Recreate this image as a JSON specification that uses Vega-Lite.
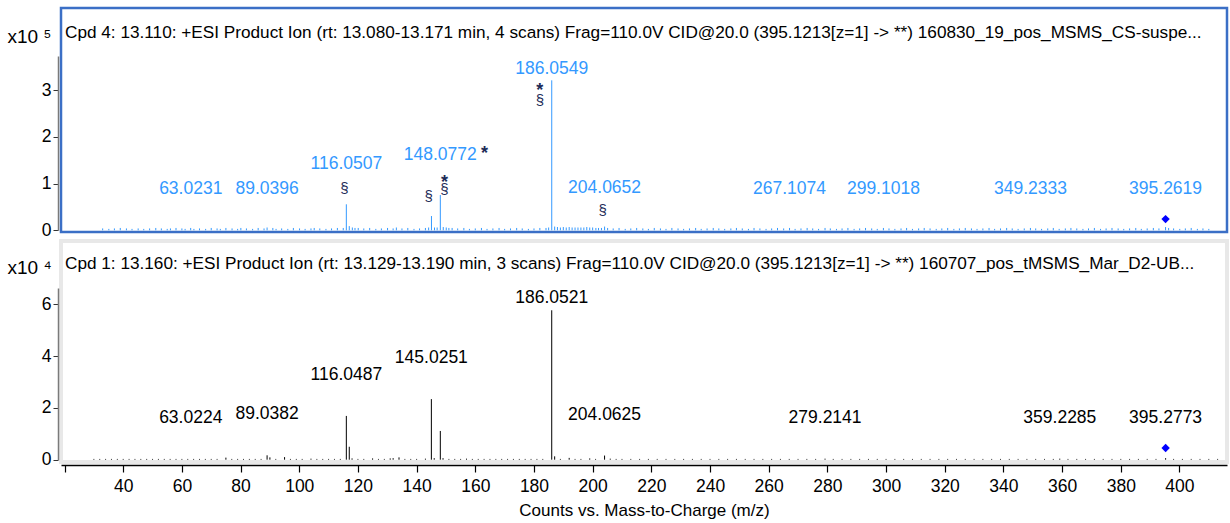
{
  "$schema": "https://vega.github.io/schema/vega-lite/v6.json",
  "autosize": "pad",
  "padding": {"left": 5, "top": 6, "right": 2, "bottom": 2},
  "spacing": 9,
  "bounds": "flush",
  "background": "white",
  "config": {
    "font": "Liberation Sans, Arial, sans-serif",
    "axis": {"grid": false, "labelColor": "black", "titleColor": "black", "titleFontWeight": "normal", "labelFont": "Liberation Sans, Arial, sans-serif", "titleFont": "Liberation Sans, Arial, sans-serif"},
    "title": {"fontWeight": "normal", "color": "black", "font": "Liberation Sans, Arial, sans-serif"}
  },
  "resolve": {"scale": {"x": "independent", "y": "independent"}},
  "datasets": {
    "top_peaks": [
      {"mz":33.0,"i":0.04},{"mz":35.1,"i":0.03},{"mz":37.0,"i":0.04},{"mz":39.0,"i":0.05},{"mz":41.1,"i":0.04},{"mz":43.0,"i":0.03},{"mz":45.1,"i":0.04},{"mz":47.0,"i":0.03},{"mz":49.0,"i":0.04},{"mz":51.1,"i":0.05},{"mz":53.0,"i":0.04},{"mz":55.0,"i":0.03},{"mz":56.1,"i":0.04},{"mz":58.0,"i":0.05},{"mz":60.0,"i":0.04},{"mz":61.1,"i":0.03},{"mz":63.0,"i":0.05},{"mz":64.1,"i":0.03},{"mz":66.0,"i":0.04},{"mz":68.1,"i":0.03},{"mz":70.0,"i":0.05},{"mz":72.0,"i":0.04},{"mz":73.1,"i":0.03},{"mz":75.0,"i":0.05},{"mz":77.1,"i":0.04},{"mz":79.0,"i":0.03},{"mz":80.1,"i":0.05},{"mz":82.0,"i":0.04},{"mz":84.1,"i":0.03},{"mz":86.0,"i":0.05},{"mz":88.0,"i":0.04},{"mz":89.04,"i":0.06},{"mz":91.0,"i":0.05},{"mz":92.1,"i":0.03},{"mz":94.0,"i":0.04},{"mz":96.1,"i":0.03},{"mz":98.0,"i":0.05},{"mz":100.1,"i":0.04},{"mz":102.0,"i":0.03},{"mz":104.0,"i":0.04},{"mz":105.1,"i":0.05},{"mz":107.0,"i":0.04},{"mz":109.1,"i":0.03},{"mz":111.0,"i":0.04},{"mz":113.0,"i":0.05},{"mz":115.0,"i":0.05},{"mz":116.05,"i":0.557},{"mz":117.05,"i":0.09},{"mz":118.1,"i":0.06},{"mz":119.0,"i":0.05},{"mz":120.1,"i":0.05},{"mz":122.0,"i":0.04},{"mz":124.0,"i":0.05},{"mz":126.1,"i":0.03},{"mz":128.0,"i":0.04},{"mz":130.1,"i":0.05},{"mz":132.0,"i":0.04},{"mz":133.1,"i":0.06},{"mz":135.0,"i":0.04},{"mz":137.0,"i":0.05},{"mz":139.1,"i":0.03},{"mz":141.0,"i":0.04},{"mz":143.0,"i":0.05},{"mz":144.1,"i":0.06},{"mz":145.06,"i":0.306},{"mz":146.1,"i":0.06},{"mz":147.0,"i":0.06},{"mz":148.08,"i":0.756},{"mz":149.08,"i":0.07},{"mz":150.1,"i":0.06},{"mz":151.0,"i":0.05},{"mz":152.1,"i":0.05},{"mz":154.0,"i":0.04},{"mz":156.1,"i":0.05},{"mz":158.0,"i":0.03},{"mz":160.0,"i":0.04},{"mz":162.1,"i":0.05},{"mz":164.0,"i":0.03},{"mz":166.0,"i":0.04},{"mz":168.1,"i":0.05},{"mz":170.0,"i":0.03},{"mz":172.0,"i":0.04},{"mz":174.1,"i":0.05},{"mz":176.0,"i":0.04},{"mz":178.1,"i":0.03},{"mz":180.0,"i":0.04},{"mz":182.0,"i":0.05},{"mz":184.1,"i":0.05},{"mz":185.0,"i":0.06},{"mz":186.055,"i":3.214},{"mz":187.05,"i":0.08},{"mz":188.0,"i":0.07},{"mz":189.0,"i":0.06},{"mz":190.0,"i":0.07},{"mz":191.0,"i":0.06},{"mz":192.0,"i":0.07},{"mz":193.0,"i":0.06},{"mz":194.0,"i":0.06},{"mz":195.0,"i":0.06},{"mz":196.0,"i":0.06},{"mz":197.0,"i":0.06},{"mz":198.0,"i":0.07},{"mz":199.0,"i":0.06},{"mz":200.0,"i":0.06},{"mz":201.1,"i":0.05},{"mz":202.0,"i":0.05},{"mz":203.0,"i":0.05},{"mz":204.065,"i":0.08},{"mz":205.1,"i":0.05},{"mz":207.0,"i":0.04},{"mz":209.0,"i":0.05},{"mz":211.1,"i":0.03},{"mz":213.0,"i":0.04},{"mz":215.0,"i":0.05},{"mz":217.1,"i":0.04},{"mz":219.0,"i":0.03},{"mz":221.0,"i":0.05},{"mz":223.1,"i":0.04},{"mz":225.0,"i":0.03},{"mz":227.0,"i":0.05},{"mz":229.1,"i":0.04},{"mz":231.0,"i":0.03},{"mz":233.0,"i":0.04},{"mz":235.1,"i":0.05},{"mz":237.0,"i":0.03},{"mz":239.0,"i":0.04},{"mz":241.1,"i":0.05},{"mz":243.0,"i":0.04},{"mz":245.0,"i":0.03},{"mz":247.1,"i":0.04},{"mz":249.0,"i":0.05},{"mz":251.0,"i":0.04},{"mz":253.1,"i":0.03},{"mz":255.0,"i":0.05},{"mz":257.0,"i":0.04},{"mz":259.1,"i":0.03},{"mz":261.0,"i":0.04},{"mz":263.0,"i":0.05},{"mz":265.1,"i":0.04},{"mz":267.1,"i":0.05},{"mz":269.0,"i":0.03},{"mz":271.0,"i":0.04},{"mz":273.1,"i":0.05},{"mz":275.0,"i":0.04},{"mz":277.0,"i":0.03},{"mz":279.2,"i":0.05},{"mz":281.0,"i":0.04},{"mz":283.1,"i":0.03},{"mz":285.0,"i":0.04},{"mz":287.0,"i":0.05},{"mz":289.1,"i":0.03},{"mz":291.0,"i":0.04},{"mz":293.0,"i":0.05},{"mz":295.1,"i":0.04},{"mz":297.0,"i":0.03},{"mz":299.1,"i":0.05},{"mz":301.0,"i":0.04},{"mz":303.0,"i":0.03},{"mz":305.1,"i":0.04},{"mz":307.0,"i":0.05},{"mz":309.0,"i":0.03},{"mz":311.1,"i":0.04},{"mz":313.0,"i":0.05},{"mz":315.0,"i":0.04},{"mz":317.1,"i":0.03},{"mz":319.0,"i":0.04},{"mz":321.0,"i":0.05},{"mz":323.1,"i":0.03},{"mz":325.0,"i":0.04},{"mz":327.0,"i":0.05},{"mz":329.1,"i":0.04},{"mz":331.0,"i":0.03},{"mz":333.0,"i":0.04},{"mz":335.1,"i":0.05},{"mz":337.0,"i":0.03},{"mz":339.0,"i":0.04},{"mz":341.1,"i":0.05},{"mz":343.0,"i":0.04},{"mz":345.0,"i":0.03},{"mz":347.1,"i":0.04},{"mz":349.2,"i":0.05},{"mz":351.0,"i":0.04},{"mz":353.0,"i":0.03},{"mz":355.1,"i":0.04},{"mz":357.0,"i":0.05},{"mz":359.0,"i":0.03},{"mz":361.1,"i":0.04},{"mz":363.0,"i":0.05},{"mz":365.0,"i":0.04},{"mz":367.1,"i":0.03},{"mz":369.0,"i":0.04},{"mz":371.0,"i":0.05},{"mz":373.1,"i":0.03},{"mz":375.0,"i":0.04},{"mz":377.0,"i":0.05},{"mz":379.1,"i":0.04},{"mz":381.0,"i":0.03},{"mz":383.0,"i":0.04},{"mz":385.1,"i":0.05},{"mz":387.0,"i":0.03},{"mz":389.0,"i":0.04},{"mz":391.1,"i":0.05},{"mz":393.0,"i":0.04},{"mz":395.26,"i":0.07},{"mz":396.3,"i":0.05},{"mz":398.0,"i":0.04},{"mz":400.1,"i":0.03},{"mz":402.0,"i":0.04},{"mz":404.0,"i":0.05},{"mz":406.1,"i":0.03},{"mz":408.0,"i":0.04},{"mz":410.0,"i":0.03}
    ],
    "top_labels": [
      {"mz":63.0231,"ly":0.89,"label":"63.0231"},{"mz":89.0396,"ly":0.89,"label":"89.0396"},{"mz":116.0507,"ly":1.43,"label":"116.0507"},{"mz":148.0772,"ly":1.61,"label":"148.0772"},{"mz":186.0549,"ly":3.46,"label":"186.0549"},{"mz":204.0652,"ly":0.91,"label":"204.0652"},{"mz":267.1074,"ly":0.89,"label":"267.1074"},{"mz":299.1018,"ly":0.89,"label":"299.1018"},{"mz":349.2333,"ly":0.89,"label":"349.2333"},{"mz":395.2619,"ly":0.89,"label":"395.2619"}
    ],
    "top_symbols": [
      {"mz":115.4,"ly":0.91,"sym":"§"},{"mz":144.1,"ly":0.735,"sym":"§"},{"mz":149.5,"ly":0.878,"sym":"§"},{"mz":182.0,"ly":2.79,"sym":"§"},{"mz":203.4,"ly":0.435,"sym":"§"},
      {"mz":149.5,"ly":1.106,"sym":"*"},{"mz":163.1,"ly":1.714,"sym":"*"},{"mz":182.0,"ly":3.07,"sym":"*"}
    ],
    "top_precursor": [{"mz":395.26,"ly":0.24}],
    "bottom_peaks": [
      {"mz":30.0,"i":0.03},{"mz":32.0,"i":0.03},{"mz":34.0,"i":0.03},{"mz":36.0,"i":0.03},{"mz":38.0,"i":0.03},{"mz":40.0,"i":0.03},{"mz":42.0,"i":0.03},{"mz":44.0,"i":0.03},{"mz":46.0,"i":0.03},{"mz":48.0,"i":0.03},{"mz":50.0,"i":0.03},{"mz":52.0,"i":0.03},{"mz":54.0,"i":0.03},{"mz":56.0,"i":0.03},{"mz":58.0,"i":0.03},{"mz":60.0,"i":0.03},{"mz":62.0,"i":0.03},{"mz":64.0,"i":0.03},{"mz":66.0,"i":0.03},{"mz":68.0,"i":0.03},{"mz":70.0,"i":0.03},{"mz":72.0,"i":0.03},{"mz":75.0,"i":0.08},{"mz":77.0,"i":0.03},{"mz":79.0,"i":0.03},{"mz":81.0,"i":0.03},{"mz":83.0,"i":0.03},{"mz":85.0,"i":0.03},{"mz":87.0,"i":0.03},{"mz":89.04,"i":0.17},{"mz":90.0,"i":0.09},{"mz":92.0,"i":0.03},{"mz":95.0,"i":0.1},{"mz":97.0,"i":0.03},{"mz":99.0,"i":0.03},{"mz":101.0,"i":0.03},{"mz":104.0,"i":0.04},{"mz":106.0,"i":0.03},{"mz":108.0,"i":0.03},{"mz":110.0,"i":0.03},{"mz":112.0,"i":0.03},{"mz":114.0,"i":0.03},{"mz":116.05,"i":1.69},{"mz":117.05,"i":0.5},{"mz":118.0,"i":0.05},{"mz":120.0,"i":0.03},{"mz":122.0,"i":0.03},{"mz":125.0,"i":0.05},{"mz":127.0,"i":0.03},{"mz":129.0,"i":0.03},{"mz":131.0,"i":0.05},{"mz":132.0,"i":0.06},{"mz":134.0,"i":0.09},{"mz":136.0,"i":0.03},{"mz":138.0,"i":0.03},{"mz":140.0,"i":0.03},{"mz":143.0,"i":0.04},{"mz":145.03,"i":2.34},{"mz":146.0,"i":0.06},{"mz":148.08,"i":1.11},{"mz":149.0,"i":0.06},{"mz":151.0,"i":0.03},{"mz":153.0,"i":0.03},{"mz":155.0,"i":0.03},{"mz":157.0,"i":0.04},{"mz":159.0,"i":0.03},{"mz":161.0,"i":0.03},{"mz":163.0,"i":0.03},{"mz":165.0,"i":0.03},{"mz":167.0,"i":0.03},{"mz":169.0,"i":0.03},{"mz":171.0,"i":0.03},{"mz":173.0,"i":0.03},{"mz":175.0,"i":0.03},{"mz":177.0,"i":0.03},{"mz":179.0,"i":0.03},{"mz":181.0,"i":0.03},{"mz":183.0,"i":0.03},{"mz":186.05,"i":5.77},{"mz":187.05,"i":0.13},{"mz":189.0,"i":0.03},{"mz":192.0,"i":0.07},{"mz":194.0,"i":0.03},{"mz":196.0,"i":0.03},{"mz":199.0,"i":0.05},{"mz":201.0,"i":0.03},{"mz":204.06,"i":0.16},{"mz":206.0,"i":0.04},{"mz":208.0,"i":0.03},{"mz":210.0,"i":0.03},{"mz":213.0,"i":0.03},{"mz":216.0,"i":0.03},{"mz":219.0,"i":0.03},{"mz":222.0,"i":0.03},{"mz":225.0,"i":0.03},{"mz":228.0,"i":0.03},{"mz":231.0,"i":0.03},{"mz":234.0,"i":0.03},{"mz":237.0,"i":0.03},{"mz":240.0,"i":0.03},{"mz":243.0,"i":0.03},{"mz":246.0,"i":0.03},{"mz":249.0,"i":0.03},{"mz":252.0,"i":0.03},{"mz":255.0,"i":0.03},{"mz":258.0,"i":0.03},{"mz":261.0,"i":0.03},{"mz":264.0,"i":0.03},{"mz":267.0,"i":0.03},{"mz":270.0,"i":0.03},{"mz":273.0,"i":0.03},{"mz":276.0,"i":0.03},{"mz":279.2,"i":0.04},{"mz":282.0,"i":0.03},{"mz":285.0,"i":0.03},{"mz":288.0,"i":0.03},{"mz":291.0,"i":0.03},{"mz":294.0,"i":0.03},{"mz":297.0,"i":0.03},{"mz":300.0,"i":0.03},{"mz":303.0,"i":0.03},{"mz":306.0,"i":0.03},{"mz":309.0,"i":0.03},{"mz":312.0,"i":0.03},{"mz":315.0,"i":0.03},{"mz":318.0,"i":0.03},{"mz":321.0,"i":0.03},{"mz":324.0,"i":0.03},{"mz":327.0,"i":0.03},{"mz":330.0,"i":0.03},{"mz":333.0,"i":0.03},{"mz":336.0,"i":0.03},{"mz":339.0,"i":0.03},{"mz":342.0,"i":0.03},{"mz":345.0,"i":0.03},{"mz":348.0,"i":0.03},{"mz":351.0,"i":0.03},{"mz":354.0,"i":0.03},{"mz":357.0,"i":0.03},{"mz":359.2,"i":0.04},{"mz":362.0,"i":0.03},{"mz":365.0,"i":0.03},{"mz":368.0,"i":0.03},{"mz":371.0,"i":0.03},{"mz":374.0,"i":0.03},{"mz":377.0,"i":0.03},{"mz":380.0,"i":0.03},{"mz":383.0,"i":0.03},{"mz":386.0,"i":0.03},{"mz":389.0,"i":0.03},{"mz":392.0,"i":0.03},{"mz":395.28,"i":0.06},{"mz":398.0,"i":0.03},{"mz":401.0,"i":0.03},{"mz":404.0,"i":0.03},{"mz":407.0,"i":0.03},{"mz":410.0,"i":0.03},{"mz":413.0,"i":0.03}
    ],
    "bottom_labels": [
      {"mz":63.0224,"ly":1.62,"label":"63.0224"},{"mz":89.0382,"ly":1.75,"label":"89.0382"},{"mz":116.0487,"ly":3.27,"label":"116.0487"},{"mz":145.0251,"ly":3.94,"label":"145.0251"},{"mz":186.0521,"ly":6.25,"label":"186.0521"},{"mz":204.0625,"ly":1.73,"label":"204.0625"},{"mz":279.2141,"ly":1.62,"label":"279.2141"},{"mz":359.2285,"ly":1.62,"label":"359.2285"},{"mz":395.2773,"ly":1.62,"label":"395.2773"}
    ],
    "bottom_precursor": [{"mz":395.28,"ly":0.45}]
  },
  "vconcat": [
    {
      "width": 1166,
      "height": 224,
      "view": {"stroke": "#3b6fc6", "strokeWidth": 2.5, "fill": "white"},
      "title": {"text": "Cpd 4: 13.110: +ESI Product Ion (rt: 13.080-13.171 min, 4 scans) Frag=110.0V CID@20.0 (395.1213[z=1] -> **) 160830_19_pos_MSMS_CS-suspe...", "anchor": "start", "frame": "group", "offset": -42, "dx": 4, "baseline": "middle", "fontSize": 17.2},
      "encoding": {
        "x": {"field": "mz", "type": "quantitative", "scale": {"domain": [18.8, 416.2], "nice": false, "zero": false}, "axis": null},
        "y": {"field": "ly", "type": "quantitative", "scale": {"domain": [0, 3.735], "range": [222.3, 48], "nice": false, "zero": false},
              "axis": {"values": [0, 1, 2, 3], "title": "x10 ⁵", "titleAngle": 0, "titleAlign": "left", "titleBaseline": "middle", "titleX": -51, "titleY": 28, "titleFontSize": 19, "offset": 3, "domainColor": "#7a7a7a", "domainWidth": 1.5, "tickColor": "#333333", "tickSize": 5, "labelFontSize": 17.5, "labelPadding": 2}}
      },
      "layer": [
        {"data": {"name": "top_peaks"}, "mark": {"type": "rule", "color": "#3399ff", "strokeWidth": 1}, "encoding": {"y": {"field": "i", "type": "quantitative"}, "y2": {"datum": 0}}},
        {"data": {"name": "top_labels"}, "mark": {"type": "text", "color": "#3399ff", "fontSize": 17.5, "baseline": "middle", "align": "center"}, "encoding": {"text": {"field": "label"}}},
        {"data": {"name": "top_symbols"}, "transform": [{"filter": "datum.sym == '§'"}], "mark": {"type": "text", "color": "#1c2b57", "fontSize": 15, "baseline": "middle", "align": "center"}, "encoding": {"text": {"field": "sym"}}},
        {"data": {"name": "top_symbols"}, "transform": [{"filter": "datum.sym == '*'"}], "mark": {"type": "text", "color": "#1c2b57", "fontSize": 18, "fontWeight": "bold", "baseline": "middle", "align": "center", "dy": 4}, "encoding": {"text": {"field": "sym"}}},
        {"data": {"name": "top_precursor"}, "mark": {"type": "point", "shape": "diamond", "filled": true, "color": "#0000ff", "size": 70, "opacity": 1}}
      ]
    },
    {
      "width": 1166,
      "height": 221,
      "view": {"stroke": "#e8e8e8", "strokeWidth": 4, "fill": "white"},
      "title": {"text": "Cpd 1: 13.160: +ESI Product Ion (rt: 13.129-13.190 min, 3 scans) Frag=110.0V CID@20.0 (395.1213[z=1] -> **) 160707_pos_tMSMS_Mar_D2-UB...", "anchor": "start", "frame": "group", "offset": -40, "dx": 4, "baseline": "middle", "fontSize": 17.2},
      "encoding": {
        "x": {"field": "mz", "type": "quantitative", "scale": {"domain": [18.8, 416.2], "nice": false, "zero": false},
              "axis": {"values": [20, 40, 60, 80, 100, 120, 140, 160, 180, 200, 220, 240, 260, 280, 300, 320, 340, 360, 380, 400], "labelExpr": "datum.value == 20 ? '' : datum.label", "title": "Counts vs. Mass-to-Charge (m/z)", "titleFontSize": 17, "titlePadding": 8, "offset": 3, "domainColor": "black", "domainWidth": 1.5, "tickColor": "black", "tickWidth": 1.2, "tickSize": 7, "labelFontSize": 17.5, "labelPadding": 5}},
        "y": {"field": "ly", "type": "quantitative", "scale": {"domain": [0, 6.63], "range": [218.7, 47], "nice": false, "zero": false},
              "axis": {"values": [0, 2, 4, 6], "title": "x10 ⁴", "titleAngle": 0, "titleAlign": "left", "titleBaseline": "middle", "titleX": -51, "titleY": 26, "titleFontSize": 19, "offset": 3, "domainColor": "#7a7a7a", "domainWidth": 1.5, "tickColor": "#333333", "tickSize": 5, "labelFontSize": 17.5, "labelPadding": 2}}
      },
      "layer": [
        {"data": {"name": "bottom_peaks"}, "mark": {"type": "rule", "color": "black", "strokeWidth": 1}, "encoding": {"y": {"field": "i", "type": "quantitative"}, "y2": {"datum": 0}}},
        {"data": {"name": "bottom_labels"}, "mark": {"type": "text", "color": "black", "fontSize": 17.5, "baseline": "middle", "align": "center"}, "encoding": {"text": {"field": "label"}}},
        {"data": {"name": "bottom_precursor"}, "mark": {"type": "point", "shape": "diamond", "filled": true, "color": "#0000ff", "size": 70, "opacity": 1}}
      ]
    }
  ]
}
